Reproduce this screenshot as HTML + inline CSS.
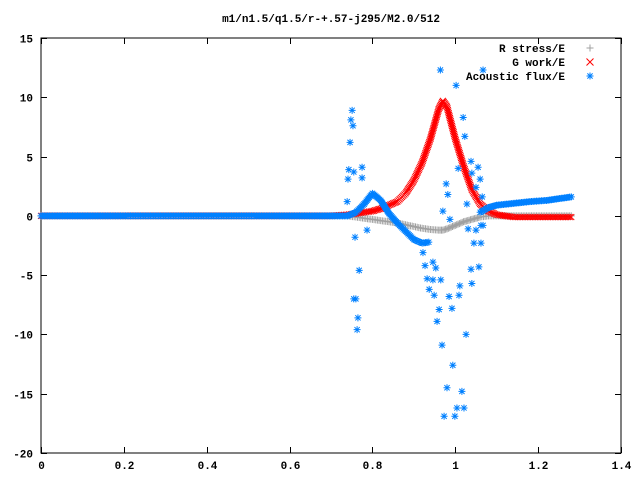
<!DOCTYPE html>
<html><head><meta charset="utf-8"><style>
body{margin:0;background:#fff}
svg text{font-family:"Liberation Mono",monospace;font-size:11px;font-weight:bold;fill:#000}
</style></head><body>
<svg id="chart" width="640" height="480" xmlns="http://www.w3.org/2000/svg">
<rect width="640" height="480" fill="#fff"/>
<text x="331" y="22" text-anchor="middle">m1/n1.5/q1.5/r-+.57-j295/M2.0/512</text>
<g id="axes"></g>
<g id="marks"></g>
<g id="legend">
<text x="565" y="52" text-anchor="end">R stress/E</text>
<text x="565" y="66" text-anchor="end">G work/E</text>
<text x="565" y="80" text-anchor="end">Acoustic flux/E</text>
</g>
</svg>
<script>
const xs=[0,0.1,0.2,0.3,0.4,0.5,0.6,0.7,0.74,0.76,0.78,0.80,0.82,0.84,0.86,0.88,0.90,0.92,0.94,0.96,0.97,0.98,1.00,1.02,1.04,1.06,1.08,1.10,1.14,1.18,1.22,1.26,1.28];
const redVals=[0,0,0,0,0,0,0,0,0.1,0.2,0.3,0.4,0.6,0.9,1.2,1.9,3.0,4.5,6.5,9.0,9.7,9.2,6.5,4.2,2.2,1.0,0.4,0.1,-0.1,-0.1,-0.1,-0.1,-0.1];
const grayVals=[0,0,0,0,0,0,0,0,0,-0.1,-0.2,-0.3,-0.4,-0.5,-0.6,-0.75,-0.9,-1.05,-1.15,-1.2,-1.2,-1.1,-0.8,-0.5,-0.3,-0.1,0,0,0,0,0,0,0];
const blueVals=[0,0,0,0,0,0,0,0,0,0.3,1.0,1.9,1.3,0.2,-0.6,-1.3,-2.0,-2.3,-2.2,null,null,null,null,null,null,0.3,0.7,0.9,1.05,1.2,1.3,1.5,1.6];
const scatX=[0.739,0.741,0.743,0.746,0.748,0.751,0.753,0.755,0.755,0.758,0.760,0.763,0.765,0.768,0.775,0.775,0.780,0.787,0.922,0.927,0.932,0.937,0.946,0.946,0.949,0.953,0.956,0.961,0.965,0.968,0.970,0.973,0.978,0.980,0.982,0.985,0.987,0.992,0.994,0.999,1.002,1.004,1.007,1.009,1.011,1.016,1.019,1.021,1.023,1.026,1.028,1.031,1.038,1.038,1.040,1.040,1.045,1.050,1.050,1.055,1.057,1.060,1.062,1.062,1.065,1.067,1.067,0.964];
const scatV=[1.2,3.1,3.9,6.2,8.1,8.9,7.6,3.7,-7.0,-1.8,-7.0,-9.6,-8.6,-4.6,4.1,3.2,1.0,-1.2,-3.1,-4.2,-5.3,-6.2,-3.9,-5.4,-6.7,-4.4,-8.9,-7.9,-5.4,-10.9,0.4,-16.9,2.7,-14.5,1.8,-6.8,-0.3,-7.8,-12.6,-16.9,11.0,-16.2,4.0,-6.7,-5.9,-14.8,8.3,-16.2,6.7,-10.0,1.0,-1.1,4.6,-4.5,3.6,-5.7,-2.3,2.4,-1.2,4.1,-4.3,3.1,-2.3,-0.8,1.6,-0.8,12.3,12.3];
const xTicks=[0,0.2,0.4,0.6,0.8,1,1.2,1.4];
const xTickLabels=["0","0.2","0.4","0.6","0.8","1","1.2","1.4"];
const yTicks=[-20,-15,-10,-5,0,5,10,15];
const yTickLabels=["-20","-15","-10","-5","0","5","10","15"];

const L=41,R=621,T=38,B=453,X0=0,X1=1.4,Y0=-20,Y1=15;
const sx=v=>L+(v-X0)/(X1-X0)*(R-L);
const sy=v=>B-(v-Y0)/(Y1-Y0)*(B-T);
const NS="http://www.w3.org/2000/svg";
function mk(tag,attrs,parent){const e=document.createElementNS(NS,tag);for(const k in attrs)e.setAttribute(k,attrs[k]);parent.appendChild(e);return e;}
const axes=document.getElementById('axes');
const frame=mk('rect',{x:L,y:T,width:R-L,height:B-T,fill:'none',stroke:'#000','stroke-width':1},axes);


let tp='';
xTicks.forEach((t,i)=>{const x=Math.round(sx(t))+0.5;tp+=`M${x} ${B}v-6M${x} ${T}v6`;
 const tx=mk('text',{x:x,y:B+16,'text-anchor':'middle'},axes);tx.textContent=xTickLabels[i];
 
 });
yTicks.forEach((t,i)=>{const y=Math.round(sy(t))+0.5;tp+=`M${L} ${y}h6M${R} ${y}h-6`;
 const tx=mk('text',{x:L-8,y:y+4,'text-anchor':'end'},axes);tx.textContent=yTickLabels[i];
 
 });
const ticks=mk('path',{d:tp,stroke:'#000','stroke-width':1,fill:'none'},axes);



function plus(x,y,s){return `M${x-s} ${y}h${2*s}M${x} ${y-s}v${2*s}`;}
function cross(x,y,s){return `M${x-s} ${y-s}l${2*s} ${2*s}M${x-s} ${y+s}l${2*s} ${-2*s}`;}
function star(x,y,s){return plus(x,y,s)+cross(x,y,s*0.75);}
function seriesPath(vals,fn,s){let d='';
 for(let i=0;i<xs.length-1;i++){if(vals[i]==null||vals[i+1]==null)continue;
  const x1=sx(xs[i]),y1=sy(vals[i]),x2=sx(xs[i+1]),y2=sy(vals[i+1]);
  const n=Math.max(1,Math.ceil(Math.hypot(x2-x1,y2-y1)/1.7));
  for(let k=0;k<n;k++){const f=k/n;d+=fn(x1+(x2-x1)*f,y1+(y2-y1)*f,s);}
 }
 const li=vals.length-1;if(vals[li]!=null)d+=fn(sx(xs[li]),sy(vals[li]),s);
 return d;}
const marks=document.getElementById('marks');
const g=mk('path',{d:seriesPath(grayVals,plus,3.5),stroke:'#a0a0a0','stroke-width':1,fill:'none'},marks);


const r=mk('path',{d:seriesPath(redVals,cross,3),stroke:'#ff0000','stroke-width':1,fill:'none'},marks);


const b=mk('path',{d:seriesPath(blueVals,star,3.5),stroke:'#0080ff','stroke-width':1,fill:'none'},marks);


let sd='';scatX.forEach((x,i)=>{sd+=star(sx(x),sy(scatV[i]),3.5);});
const sc=mk('path',{d:sd,stroke:'#0080ff','stroke-width':1,fill:'none'},marks);


const leg=document.getElementById('legend');
const lg=mk('path',{d:plus(590,48,3.5),stroke:'#a0a0a0',fill:'none'},leg);


const lr=mk('path',{d:cross(590,62,3.5),stroke:'#ff0000',fill:'none'},leg);


const lb=mk('path',{d:star(590,76,3.5),stroke:'#0080ff',fill:'none'},leg);


</script>
</body></html>
